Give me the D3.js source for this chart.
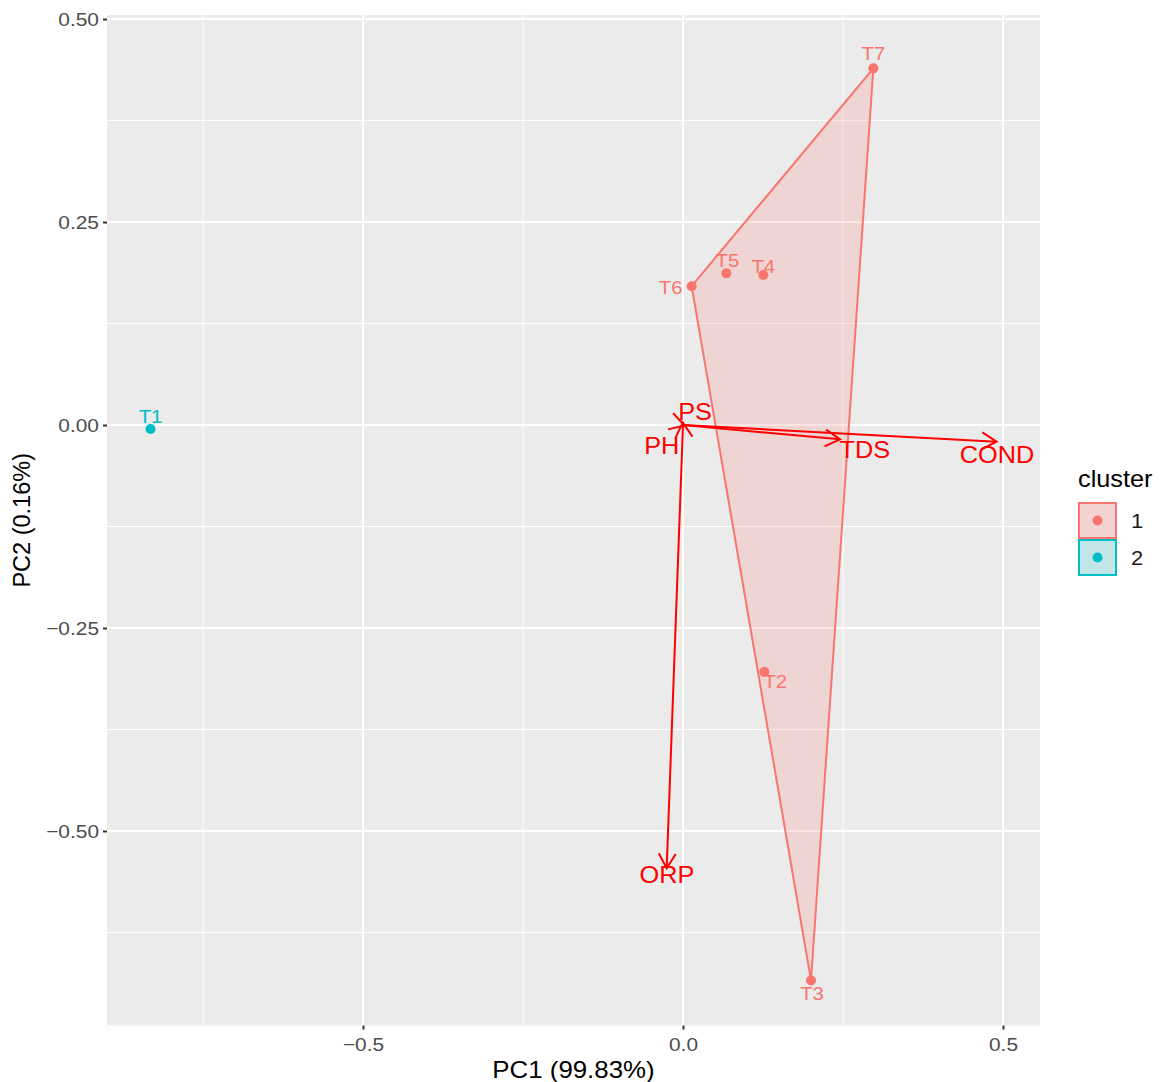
<!DOCTYPE html>
<html>
<head>
<meta charset="utf-8">
<script src="https://cdn.jsdelivr.net/npm/d3@7"></script>
<style>
  body { margin: 0; background: #fff; }
  svg { display: block; font-family: "Liberation Sans", Arial, sans-serif; }
</style>
</head>
<body>
<svg id="chart" width="1171" height="1082"></svg>
<script>
// Sample scores on the first two principal components
const samples = ["T1", "T2", "T3", "T4", "T5", "T6", "T7"];
const pc1 = [-0.832, 0.127, 0.200, 0.1255, 0.0677, 0.0135, 0.2974];
const pc2 = [-0.005, -0.304, -0.684, 0.1847, 0.1868, 0.171, 0.4393];
const cluster = ["2", "1", "1", "1", "1", "1", "1"];

// Variable loadings (arrow tips) and where their names sit
const variables = ["PS", "PH", "TDS", "COND", "ORP"];
const loadX = [0.0025, -0.0003, 0.2453, 0.490, -0.0255];
const loadY = [-0.0006, 0.003, -0.0176, -0.0205, -0.546];
const varLabelX = [0.0188, -0.0333, 0.284, 0.4906, -0.025];
const varLabelY = [0.0164, -0.0255, -0.0308, -0.0370, -0.554];

// Axis ticks
const xMajor = [-0.5, 0, 0.5];
const xMinor = [-0.75, -0.25, 0.25];
const yMajor = [-0.5, -0.25, 0, 0.25, 0.5];
const yMinor = [-0.625, -0.375, -0.125, 0.125, 0.375];

const clusterNames = ["1", "2"];
const clusterColors = ["#F8766D", "#00BFC4"];

// Text placement of sample names relative to their points (px)
const sampleLabelOffset = {
  T1: [0, -13], T2: [11, 10], T3: [1, 13], T4: [0, -9],
  T5: [1, -13], T6: [-21, 1], T7: [0, -15]
};

// Horizontal widening applied to horizontal text
const TEXT_STRETCH = 1.1;
function widen(sel) {
  sel.each(function () {
    const t = d3.select(this);
    const tx = +t.attr("x") || 0, ty = +t.attr("y") || 0;
    t.attr("transform", `translate(${tx},${ty}) scale(${TEXT_STRETCH},1) translate(${-tx},${-ty})`);
  });
}

const svg = d3.select("#chart");
const panel = { left: 107, right: 1040, top: 15, bottom: 1025.6 };

const x = d3.scaleLinear().domain([-0.9, 0.5578]).range([panel.left, panel.right]);
const y = d3.scaleLinear().domain([-0.7397, 0.505]).range([panel.bottom, panel.top]);
const color = d3.scaleOrdinal().domain(clusterNames).range(clusterColors);

// Panel background
svg.append("rect")
  .attr("x", panel.left).attr("y", panel.top)
  .attr("width", panel.right - panel.left).attr("height", panel.bottom - panel.top)
  .attr("fill", "#EBEBEB");

const grid = svg.append("g");
grid.selectAll(".xmin").data(xMinor).join("line")
  .attr("x1", d => x(d)).attr("x2", d => x(d))
  .attr("y1", panel.top).attr("y2", panel.bottom)
  .attr("stroke", "#fff").attr("stroke-width", 1);
grid.selectAll(".ymin").data(yMinor).join("line")
  .attr("y1", d => y(d)).attr("y2", d => y(d))
  .attr("x1", panel.left).attr("x2", panel.right)
  .attr("stroke", "#fff").attr("stroke-width", 1);
grid.selectAll(".xmaj").data(xMajor).join("line")
  .attr("x1", d => x(d)).attr("x2", d => x(d))
  .attr("y1", panel.top).attr("y2", panel.bottom)
  .attr("stroke", "#fff").attr("stroke-width", 2);
grid.selectAll(".ymaj").data(yMajor).join("line")
  .attr("y1", d => y(d)).attr("y2", d => y(d))
  .attr("x1", panel.left).attr("x2", panel.right)
  .attr("stroke", "#fff").attr("stroke-width", 2);

// Axes
const xAxis = svg.append("g")
  .attr("transform", `translate(0,${panel.bottom})`)
  .call(d3.axisBottom(x).tickValues(xMajor).tickFormat(d3.format(".1f")).tickSize(4).tickPadding(8));
const yAxis = svg.append("g")
  .attr("transform", `translate(${panel.left},0)`)
  .call(d3.axisLeft(y).tickValues(yMajor).tickFormat(d3.format(".2f")).tickSize(4).tickPadding(4));
[xAxis, yAxis].forEach(g => {
  g.select(".domain").remove();
  g.selectAll(".tick line").attr("stroke", "#333").attr("stroke-width", 2);
  g.selectAll(".tick text").attr("fill", "#4D4D4D")
    .style("font-size", "19px").style("font-family", "Liberation Sans, Arial, sans-serif")
    .call(widen);
});

// Convex hulls per cluster
const pts = samples.map((s, i) => ({ name: s, x: pc1[i], y: pc2[i], cluster: cluster[i] }));
clusterNames.forEach(c => {
  const members = pts.filter(p => p.cluster === c).map(p => [x(p.x), y(p.y)]);
  if (members.length < 3) return;
  const hull = d3.polygonHull(members);
  svg.append("path")
    .attr("d", "M" + hull.join("L") + "Z")
    .attr("fill", color(c)).attr("fill-opacity", 0.2)
    .attr("stroke", color(c)).attr("stroke-width", 2)
    .attr("stroke-linejoin", "round");
});

// Sample points and names
svg.selectAll(".pt").data(pts).join("circle")
  .attr("cx", d => x(d.x)).attr("cy", d => y(d.y)).attr("r", 5)
  .attr("fill", d => color(d.cluster));
svg.selectAll(".ptlab").data(pts).join("text")
  .attr("x", d => x(d.x) + sampleLabelOffset[d.name][0])
  .attr("y", d => y(d.y) + sampleLabelOffset[d.name][1])
  .attr("text-anchor", "middle").attr("dominant-baseline", "central")
  .attr("fill", d => color(d.cluster))
  .style("font-size", "18.5px")
  .text(d => d.name)
  .call(widen);

// Loading arrows with open heads
const arrows = variables.map((v, i) => ({ name: v, x: loadX[i], y: loadY[i], lx: varLabelX[i], ly: varLabelY[i] }));
const arrowG = svg.append("g").attr("stroke", "#FF0000").attr("stroke-width", 2).attr("fill", "none");
const headLen = 17, headAng = Math.PI / 6;
arrows.forEach(a => {
  const x0 = x(0), y0 = y(0), x1 = x(a.x), y1 = y(a.y);
  arrowG.append("line").attr("x1", x0).attr("y1", y0).attr("x2", x1).attr("y2", y1);
  const ang = Math.atan2(y1 - y0, x1 - x0);
  const p1 = [x1 - headLen * Math.cos(ang - headAng), y1 - headLen * Math.sin(ang - headAng)];
  const p2 = [x1 - headLen * Math.cos(ang + headAng), y1 - headLen * Math.sin(ang + headAng)];
  arrowG.append("path").attr("d", `M${p1}L${x1},${y1}L${p2}`);
});
svg.selectAll(".varlab").data(arrows).join("text")
  .attr("x", d => x(d.lx)).attr("y", d => y(d.ly))
  .attr("text-anchor", "middle").attr("dominant-baseline", "central")
  .attr("fill", "#FF0000").style("font-size", "23px")
  .text(d => d.name)
  .call(widen);

// Axis titles
svg.append("text")
  .attr("x", (panel.left + panel.right) / 2).attr("y", 1078)
  .attr("text-anchor", "middle").style("font-size", "23.5px").attr("fill", "#000")
  .text("PC1 (99.83%)")
  .call(widen);
svg.append("text")
  .attr("transform", `translate(30,${(panel.top + panel.bottom) / 2}) rotate(-90)`)
  .attr("text-anchor", "middle").style("font-size", "23.5px").attr("fill", "#000")
  .text("PC2 (0.16%)");

// Legend
const legend = svg.append("g").attr("transform", "translate(1078,0)");
legend.append("text").attr("x", 0).attr("y", 487)
  .style("font-size", "23px").attr("fill", "#000").text("cluster")
  .call(widen);
clusterNames.forEach((c, i) => {
  const top = 502 + i * 37;
  legend.append("rect")
    .attr("x", 1).attr("y", top + 1).attr("width", 37).attr("height", 35)
    .attr("fill", c === "1" ? "#F2D3D1" : "#C2E6E7")
    .attr("stroke", color(c)).attr("stroke-width", 2);
  legend.append("circle").attr("cx", 19.5).attr("cy", top + 18.5).attr("r", 5).attr("fill", color(c));
  legend.append("text").attr("x", 53).attr("y", top + 18.5)
    .attr("dominant-baseline", "central")
    .style("font-size", "20px").attr("fill", "#1A1A1A").text(c)
    .call(widen);
});
</script>
</body>
</html>
